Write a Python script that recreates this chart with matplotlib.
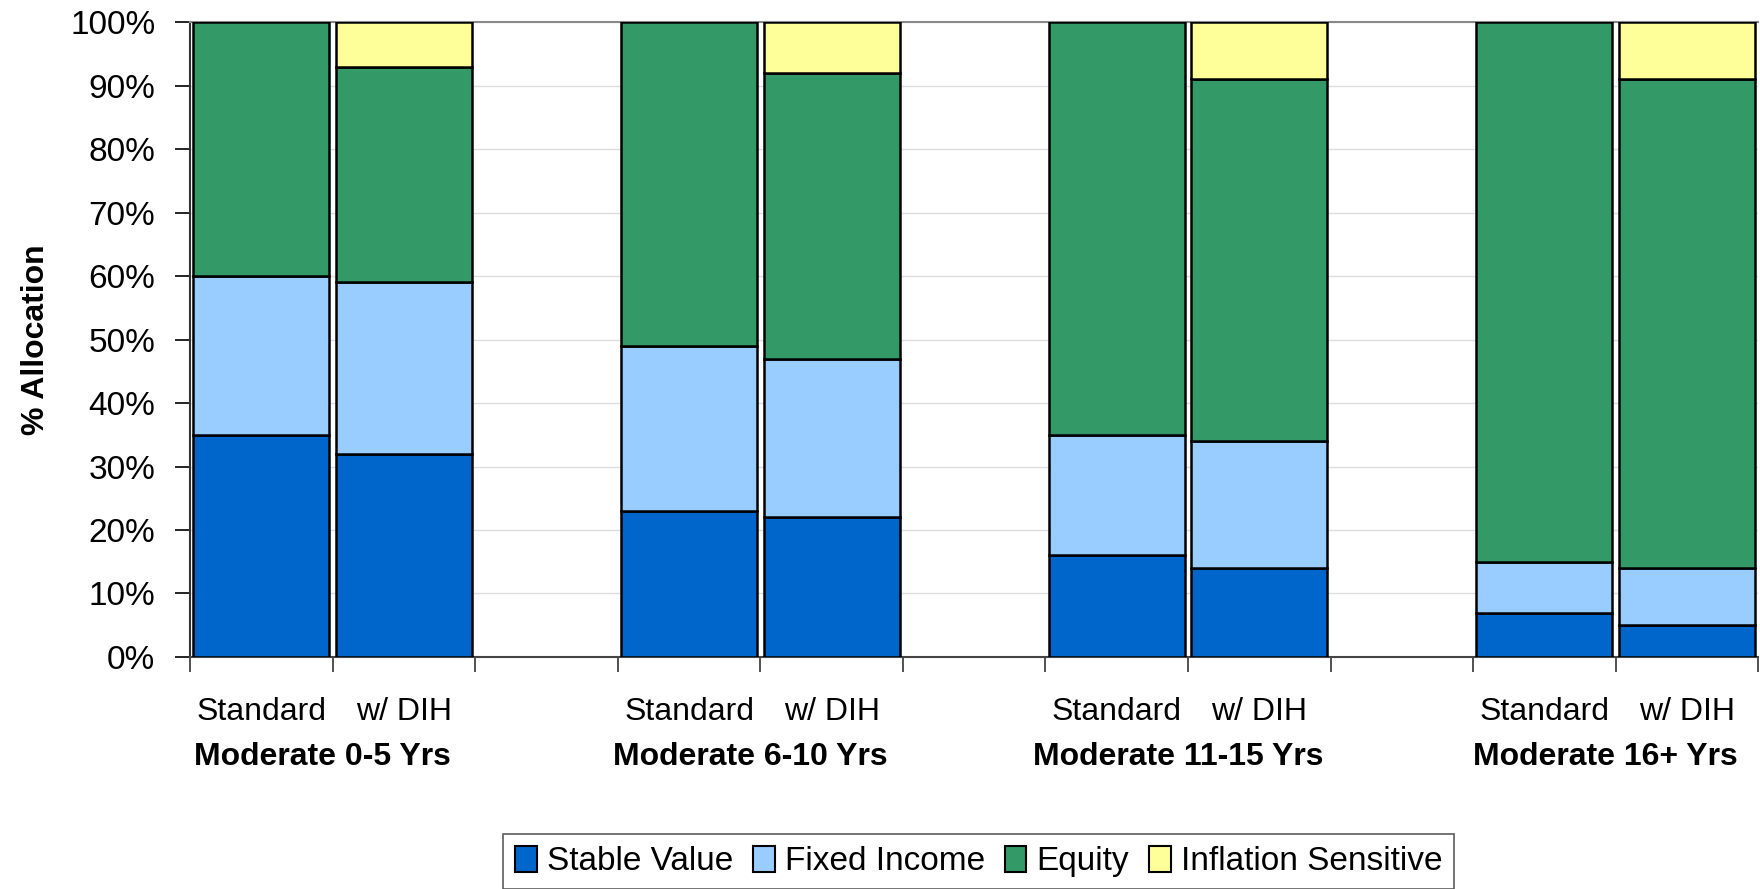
import matplotlib
matplotlib.use("Agg")
import matplotlib.pyplot as plt
from matplotlib.patches import Patch
from matplotlib.ticker import FixedLocator, PercentFormatter

plt.rcParams['font.family'] = ['Liberation Sans', 'DejaVu Sans']

groups = ["Moderate 0-5 Yrs", "Moderate 6-10 Yrs", "Moderate 11-15 Yrs", "Moderate 16+ Yrs"]
variants = ["Standard", "w/ DIH"]
series = ["Stable Value", "Fixed Income", "Equity", "Inflation Sensitive"]
colors = ["#0066CC", "#99CCFF", "#339966", "#FFFF99"]

# bar order: G1 Std, G1 DIH, G2 Std, G2 DIH, ...
stable_value = [35, 32, 23, 22, 16, 14, 7, 5]
fixed_income = [25, 27, 26, 25, 19, 20, 8, 9]
equity = [40, 34, 51, 45, 65, 57, 85, 77]
inflation_sensitive = [0, 7, 0, 8, 0, 9, 0, 9]

values = [stable_value, fixed_income, equity, inflation_sensitive]

fig = plt.figure(figsize=(17.6, 8.89), dpi=100)
ax = fig.add_axes([0.108, 0.261, 0.891, 0.714])

positions = []
for g in range(len(groups)):
    for v in range(len(variants)):
        positions.append(g * 3 + v)

bottoms = [0] * len(positions)
for s, (vals, col) in enumerate(zip(values, colors)):
    for i, (x, h) in enumerate(zip(positions, vals)):
        if h <= 0:
            continue
        ax.bar(x, h, bottom=bottoms[i], width=0.955, color=col,
               edgecolor="black", linewidth=1.8, zorder=3)
        bottoms[i] += h

ax.set_xlim(-0.5, 10.5)
ax.set_ylim(0, 100)
ax.yaxis.set_major_locator(FixedLocator(range(0, 101, 10)))
ax.yaxis.set_major_formatter(PercentFormatter(decimals=0))
ax.grid(axis='y', color="#DDDDDD", linewidth=1.0, zorder=0)
ax.set_axisbelow(True)

ax.set_xticks(positions)
ax.set_xticklabels([variants[i % 2] for i in range(len(positions))])
ax.set_xticks([x - 0.5 for x in range(12)], minor=True)
ax.tick_params(axis='x', which='major', length=0, pad=29, labelsize=23)
ax.tick_params(axis='x', which='minor', length=11, width=1.2, color="#333333")
ax.tick_params(axis='y', length=11, width=1.2, labelsize=24, pad=14)

ax.spines['right'].set_visible(False)
ax.spines['top'].set_color("#888888")
ax.spines['top'].set_linewidth(1.5)
ax.spines['left'].set_color("#333333")
ax.spines['left'].set_linewidth(1.5)
ax.spines['bottom'].set_color("#444444")
ax.spines['bottom'].set_linewidth(1.5)

for g, name in enumerate(groups):
    ax.text(g * 3 + 0.43, -0.158, name, transform=ax.get_xaxis_transform(),
            ha='center', va='center', fontsize=23, fontweight='bold')

ax.set_ylabel("% Allocation", fontsize=23, fontweight='bold', labelpad=14)

handles = [Patch(facecolor=c, edgecolor='black', linewidth=1.5) for c in colors]
leg = fig.legend(handles, series, loc='upper center', bbox_to_anchor=(0.556, 0.062),
                 ncol=4, fontsize=24, frameon=True, fancybox=False,
                 handlelength=0.65, handleheight=0.85, handletextpad=0.3,
                 columnspacing=0.6, borderpad=0.35, borderaxespad=0)
leg.get_frame().set_edgecolor("#333333")
leg.get_frame().set_linewidth(1.2)

fig.savefig("out.png", dpi=100)
